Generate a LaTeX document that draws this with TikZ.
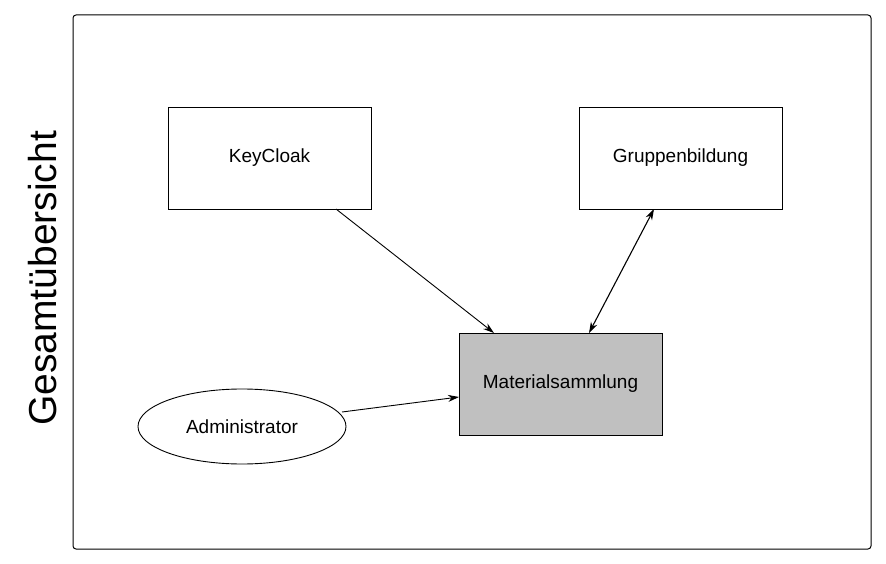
\documentclass[tikz,border=0pt]{standalone}
\usepackage{fontspec}
\setmainfont{Liberation Sans}
\usetikzlibrary{shapes.geometric,arrows.meta}
\begin{document}
\begin{tikzpicture}[x=1pt,y=-1pt,
  box/.style={draw=black,line width=0.9pt,minimum width=203pt,minimum height=102pt,inner sep=0pt,font=\fontsize{19}{21}\selectfont},
  ell/.style={draw=black,line width=0.9pt,ellipse,minimum width=208pt,minimum height=75pt,inner sep=0pt,font=\fontsize{19}{21}\selectfont},
  conn/.style={line width=0.9pt,-{Stealth[length=11pt,width=7pt]}},
  biconn/.style={line width=1.1pt,{Stealth[length=11pt,width=7pt]}-{Stealth[length=11pt,width=7pt]}}]
\useasboundingbox (0,0) rectangle (886,564);
\node[draw=black,line width=1pt,rounded corners=3pt,minimum width=798pt,minimum height=534pt,inner sep=0pt] (frame) at (472,282) {};
\node[rotate=90,font=\fontsize{39}{41}\selectfont,inner sep=0pt] (title) at (43,278.5) {Gesamtübersicht};
\node[box] (kc) at (269.5,158) {KeyCloak};
\node[box] (gb) at (680.5,158) {Gruppenbildung};
\node[box,fill={rgb,255:red,192;green,192;blue,192}] (ms) at (560.5,384) {Materialsammlung};
\node[ell] (ad) at (242,426.5) {Administrator};
\coordinate (kcs) at (336,209);
\coordinate (mst) at (494,333);
\coordinate (gbs) at (654,209);
\coordinate (mst2) at (589,333);
\coordinate (ade) at (342,412);
\coordinate (msw) at (459,397);
\draw[conn] (kcs) -- (mst);
\draw[biconn] (gbs) -- (mst2);
\draw[conn] (ade) -- (msw);
\end{tikzpicture}
\end{document}
